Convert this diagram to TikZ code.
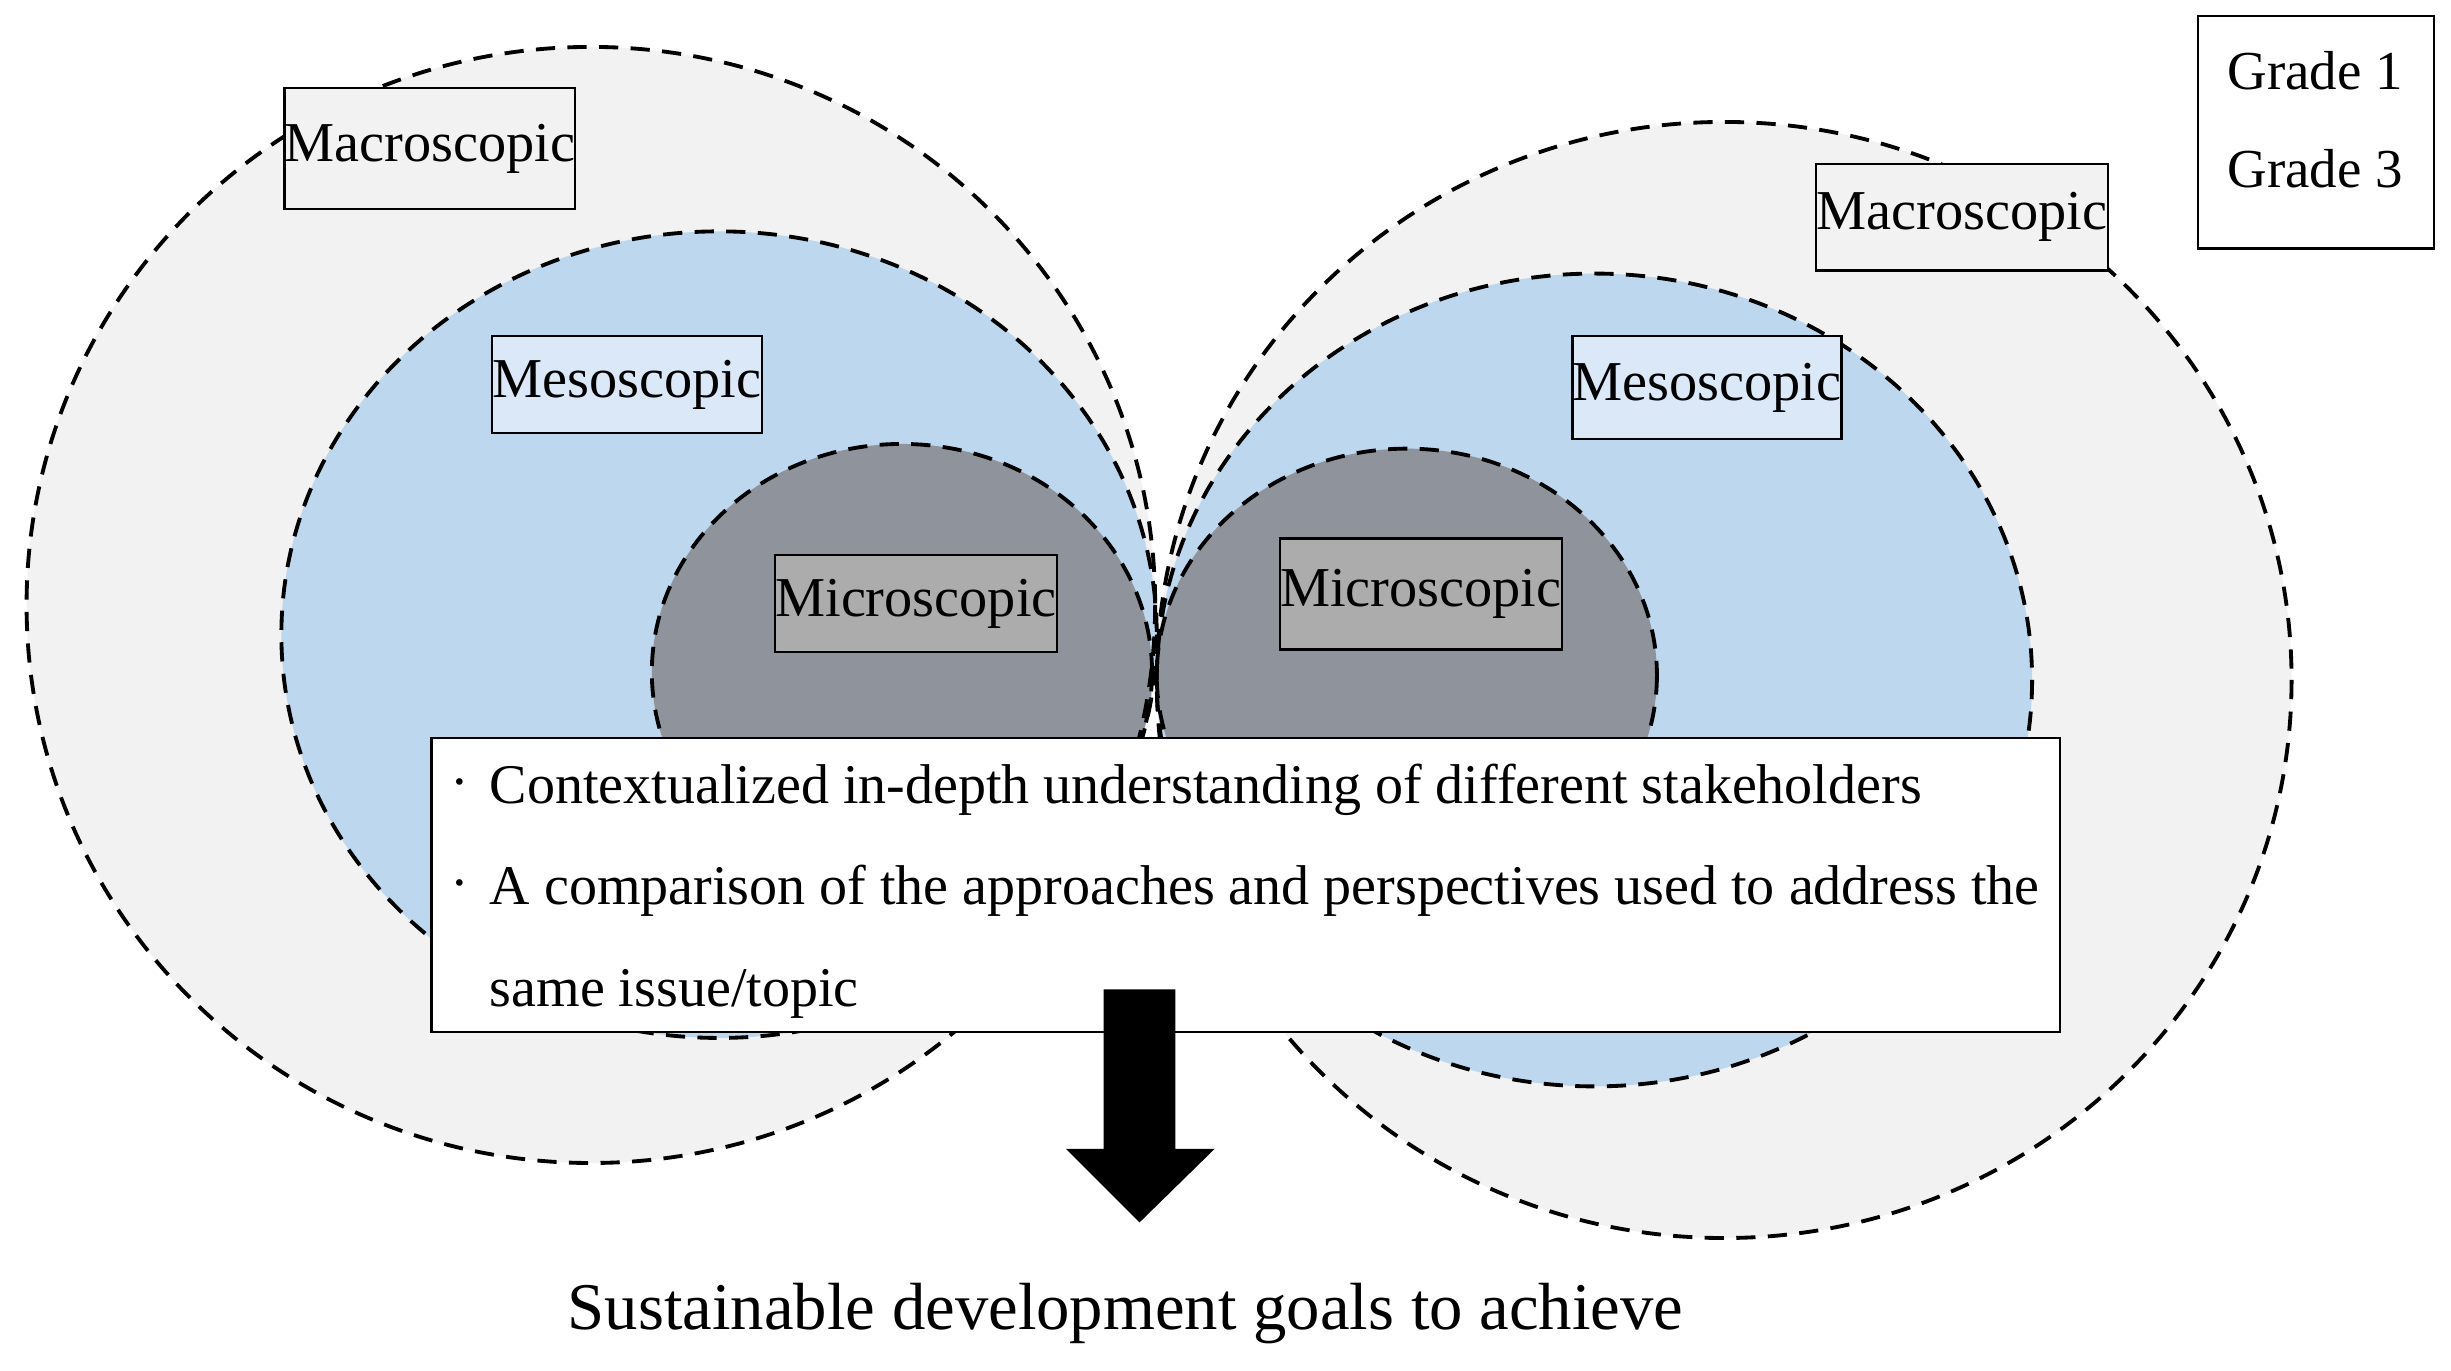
\documentclass[tikz,border=0pt]{standalone}
\usepackage{fontspec}
\setmainfont{Liberation Serif}
\begin{document}
\begin{tikzpicture}[x=0.02cm,y=-0.02cm,
  circ/.style={draw=black,line width=1.4pt,dash pattern=on 7pt off 4.5pt},
  lab/.style={draw=black,line width=0.8pt,minimum height=1.2cm,inner sep=0pt,font=\fontsize{20.5}{24}\selectfont},
  txt/.style={anchor=west,inner sep=0pt,font=\fontsize{20.4}{24}\selectfont}]
\definecolor{macro}{RGB}{242,242,242}
\definecolor{meso}{RGB}{189,215,238}
\definecolor{micro}{RGB}{143,147,156}
\definecolor{mesobox}{RGB}{218,232,247}
\definecolor{microbox}{RGB}{172,172,172}
\useasboundingbox (0,0) rectangle (1568,877);
% fills
\fill[macro] (378,387) ellipse [x radius=361, y radius=357];
\fill[macro] (1103,435) ellipse [x radius=363, y radius=357];
\fill[meso] (460,406) ellipse [x radius=280, y radius=258];
\fill[meso] (1020,435) ellipse [x radius=280, y radius=260];
\fill[micro] (577,430) ellipse [x radius=160, y radius=146];
\fill[micro] (900,432) ellipse [x radius=160, y radius=145];
% outlines
\draw[circ] (378,387) ellipse [x radius=361, y radius=357];
\draw[circ] (1103,435) ellipse [x radius=363, y radius=357];
\draw[circ] (460,406) ellipse [x radius=280, y radius=258];
\draw[circ] (1020,435) ellipse [x radius=280, y radius=260];
\draw[circ] (577,430) ellipse [x radius=160, y radius=146];
\draw[circ] (900,432) ellipse [x radius=160, y radius=145];
% labels
\node[lab,fill=macro,minimum width=3.72cm,minimum height=1.54cm] (lmac) at (275,95) {Macroscopic};
\node[lab,fill=mesobox,minimum width=3.46cm,minimum height=1.24cm] (lmes) at (401,246) {Mesoscopic};
\node[lab,fill=microbox,minimum width=3.6cm,minimum height=1.24cm] (lmic) at (586,386) {Microscopic};
\node[lab,fill=macro,minimum width=3.74cm,minimum height=1.36cm] (rmac) at (1255,139) {Macroscopic};
\node[lab,fill=mesobox,minimum width=3.44cm,minimum height=1.32cm] (rmes) at (1092,248) {Mesoscopic};
\node[lab,fill=microbox,minimum width=3.6cm,minimum height=1.42cm] (rmic) at (909,380) {Microscopic};
% grade box
\node[draw=black,line width=0.8pt,fill=white,minimum width=3.02cm,minimum height=2.98cm] (grade) at (1481.5,84.5) {};
\node[inner sep=0pt,font=\fontsize{20}{24}\selectfont] (g1) at (1481,45) {Grade 1};
\node[inner sep=0pt,font=\fontsize{20}{24}\selectfont] (g3) at (1481,108) {Grade 3};
% text box
\node[draw=black,line width=0.8pt,fill=white,minimum width=20.84cm,minimum height=3.76cm,inner sep=0pt] (tb) at (797,566) {};
\node[txt] (b1) at (288,505) {·};
\node[txt] (t1) at (313,505) {Contextualized in-depth understanding of different stakeholders};
\node[txt] (b2) at (288,570) {·};
\node[txt] (t2) at (313,570) {A comparison of the approaches and perspectives used to address the};
\node[txt] (t3) at (313,636) {same issue/topic};
% arrow
\fill[black] (706,633) -- (752,633) -- (752,735) -- (777,735) -- (729,782) -- (682,735) -- (706,735) -- cycle;
\node[inner sep=0pt,font=\fontsize{24.3}{28}\selectfont] (goal) at (720,840) {Sustainable development goals to achieve};
\end{tikzpicture}
\end{document}
